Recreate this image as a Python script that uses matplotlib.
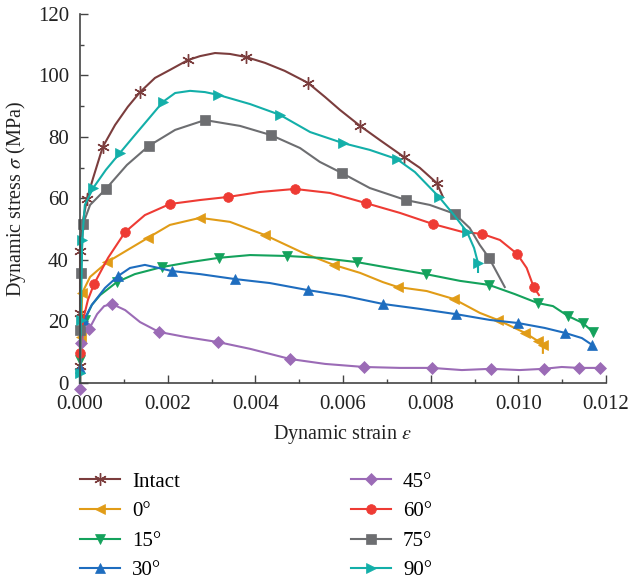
import matplotlib
matplotlib.use("Agg")
import matplotlib.pyplot as plt
from matplotlib.ticker import MultipleLocator, FormatStrFormatter

plt.rcParams['font.family'] = ['Liberation Serif', 'DejaVu Serif']
plt.rcParams['mathtext.fontset'] = 'stix'

# strain / stress
intact_x = [0, 0, 0, 0, 0.00007, 0.00016, 0.0003, 0.00052, 0.0008, 0.00109, 0.00137, 0.00171, 0.00205,
            0.00246, 0.00274, 0.00308, 0.00342, 0.00379, 0.00422, 0.00467, 0.0052, 0.00559, 0.00593,
            0.00639, 0.00684, 0.00739, 0.00775, 0.00814, 0.00828]
intact_y = [0, 5.5, 22.8, 42.9, 53.0, 59.9, 66.7, 76.8, 83.9, 89.8, 94.6, 99.2, 101.8,
            105.0, 106.3, 107.3, 107.0, 106.0, 104.1, 101.5, 97.6, 93.0, 88.8,
            83.6, 79.0, 73.5, 70.0, 65.0, 60.5]
intact_mk = [1, 2, 3, 5, 7, 10, 13, 17, 20, 23, 25, 27]

d0_x = [0, 0.00002, 0.00005, 0.00023, 0.00062, 0.00109, 0.00155, 0.00205, 0.00274, 0.00342, 0.00422,
        0.00509, 0.00579, 0.00639, 0.00691, 0.00725, 0.00791, 0.00853, 0.00912, 0.00953, 0.01015,
        0.01044, 0.01056, 0.01056]
d0_y = [0, 15.0, 29.3, 34.5, 39.3, 43.3, 47.2, 51.4, 53.7, 52.4, 48.1,
        42.3, 38.4, 35.8, 32.8, 31.2, 29.9, 27.3, 22.8, 20.5, 16.3,
        13.7, 12.4, 9.8]
d0_mk = [1, 2, 4, 6, 8, 10, 12, 15, 17, 19, 20, 21, 22]

d15_x = [0, 0, 0.00005, 0.00011, 0.00027, 0.00046, 0.00084, 0.00125, 0.00187, 0.00251, 0.00317,
         0.00388, 0.00472, 0.00547, 0.00632, 0.00707, 0.00789, 0.00867, 0.00933, 0.00992, 0.01044,
         0.01079, 0.01113, 0.01147, 0.0117]
d15_y = [0, 7.5, 15.6, 20.5, 25.4, 28.6, 32.8, 35.4, 37.7, 39.3, 40.7,
         41.6, 41.3, 40.7, 39.3, 37.4, 35.4, 33.2, 31.9, 28.9, 26.0,
         25.0, 21.8, 19.5, 16.6]
d15_mk = [1, 3, 6, 8, 10, 12, 14, 16, 18, 20, 22, 23, 24]

d30_x = [0, 0, 0.00005, 0.00009, 0.00027, 0.00057, 0.00087, 0.00114, 0.00148, 0.0021, 0.00274,
         0.00353, 0.00433, 0.0052, 0.00604, 0.00691, 0.00775, 0.00857, 0.00935, 0.00999, 0.0106,
         0.01106, 0.01145, 0.01168]
d30_y = [0, 4.9, 15.6, 20.5, 25.4, 30.9, 34.8, 37.4, 38.4, 36.4, 35.4,
         33.8, 32.5, 30.2, 28.3, 25.7, 24.1, 22.4, 20.5, 19.5, 17.9,
         16.3, 14.6, 12.4]
d30_mk = [1, 3, 6, 9, 11, 13, 15, 17, 19, 21, 23]

d45_x = [0, 0, 0.00002, 0.00009, 0.00021, 0.00039, 0.00055, 0.00073, 0.00103, 0.00137, 0.0018,
         0.00239, 0.00315, 0.00388, 0.00479, 0.00559, 0.00648, 0.0073, 0.00803, 0.00871, 0.00937,
         0.01003, 0.01058, 0.01099, 0.01138, 0.01186]
d45_y = [-1.8, 5.9, 13.0, 16.3, 17.6, 22.4, 25.0, 25.7, 23.7, 19.8, 16.6,
         15.0, 13.3, 11.1, 7.8, 6.2, 5.2, 4.9, 4.9, 4.2, 4.6,
         4.2, 4.6, 5.2, 4.9, 4.9]
d45_mk = [0, 2, 4, 7, 10, 12, 14, 16, 18, 20, 22, 24, 25]

d60_x = [0, 0, 0.00007, 0.00018, 0.00032, 0.00064, 0.00103, 0.00148, 0.00205, 0.00274, 0.00338,
         0.0041, 0.0049, 0.0057, 0.00652, 0.0073, 0.00805, 0.00873, 0.00917, 0.00958, 0.00997,
         0.01019, 0.01035, 0.01047]
d60_y = [0, 9.8, 20.5, 27.0, 32.2, 40.7, 49.1, 54.6, 58.2, 59.5, 60.5,
         62.1, 63.1, 61.8, 58.5, 55.3, 51.7, 49.1, 48.5, 46.5, 42.0,
         37.4, 31.2, 28.6]
d60_mk = [1, 4, 6, 8, 10, 12, 14, 16, 18, 20, 22]

d75_x = [0, 0, 0.00002, 0.00007, 0.00023, 0.00059, 0.00107, 0.00157, 0.00217, 0.00285, 0.00365,
         0.00436, 0.00502, 0.00547, 0.00597, 0.00661, 0.00743, 0.00798, 0.00855, 0.00889, 0.00912,
         0.00933, 0.00969]
d75_y = [0, 17.2, 35.8, 51.7, 57.9, 63.1, 70.9, 77.1, 82.3, 85.5, 83.6,
         80.6, 76.4, 71.9, 68.3, 63.4, 59.5, 57.9, 55.0, 50.4, 44.9,
         40.7, 31.2]
d75_mk = [1, 2, 3, 5, 7, 9, 11, 14, 16, 18, 21]

d90_x = [0, 0, 0.00002, 0.00005, 0.00011, 0.0003, 0.00059, 0.00091, 0.00125, 0.0016, 0.00189,
         0.00217, 0.00251, 0.00285, 0.00315, 0.00388, 0.00456, 0.00525, 0.006, 0.00661, 0.00723,
         0.00764, 0.00819, 0.00855, 0.00883, 0.00899, 0.00908, 0.00908]
d90_y = [0, 3.3, 20.5, 46.5, 57.9, 63.4, 69.3, 74.8, 80.6, 86.5, 91.4,
         94.3, 95.0, 94.6, 93.7, 90.7, 87.2, 81.6, 78.0, 75.8, 72.8,
         68.6, 60.5, 54.3, 49.1, 43.9, 39.0, 36.1]
d90_mk = [1, 2, 3, 5, 7, 10, 14, 16, 18, 20, 22, 24, 26]

series = [
    ("Intact", intact_x, intact_y, intact_mk, "#7B3D3D", (6, 2, 0), 9),
    ("0°", d0_x, d0_y, d0_mk, "#E19C17", "<", 7),
    ("15°", d15_x, d15_y, d15_mk, "#14A25C", "v", 7),
    ("30°", d30_x, d30_y, d30_mk, "#1E6DBF", "^", 7),
    ("45°", d45_x, d45_y, d45_mk, "#9B6BB6", "D", 6),
    ("60°", d60_x, d60_y, d60_mk, "#EE3B34", "o", 7),
    ("75°", d75_x, d75_y, d75_mk, "#6D6E71", "s", 7),
    ("90°", d90_x, d90_y, d90_mk, "#13AFA9", ">", 7),
]

fig = plt.figure(figsize=(6.31, 5.8), dpi=100)
ax = fig.add_axes([0.1268, 0.3397, 0.8336, 0.6362])

for name, x, y, mk, c, m, ms in series:
    ax.plot(x, y, color=c, lw=1.5, marker=m, markersize=ms, markevery=mk,
            markeredgewidth=1.0 if m == (6, 2, 0) else 0.5, markeredgecolor=c,
            label=name, clip_on=False)

ax.set_xlim(0, 0.012)
ax.set_ylim(0, 120)
ax.xaxis.set_major_locator(MultipleLocator(0.002))
ax.xaxis.set_minor_locator(MultipleLocator(0.001))
ax.yaxis.set_major_locator(MultipleLocator(20))
ax.yaxis.set_minor_locator(MultipleLocator(10))
ax.xaxis.set_major_formatter(FormatStrFormatter("%.3f"))

for s in ["top", "right"]:
    ax.spines[s].set_visible(False)
for s in ["left", "bottom"]:
    ax.spines[s].set_color("#444444")
    ax.spines[s].set_linewidth(1.2)

ax.tick_params(which="both", direction="in", colors="#444444", labelcolor="#222222", labelsize=15)
ax.tick_params(which="major", length=6, width=1.0)
ax.tick_params(which="minor", length=3, width=1.0)
ax.tick_params(axis="x", which="major", pad=9)
ax.tick_params(axis="y", which="major", pad=8)

ax.set_xlabel(r"Dynamic strain $\varepsilon$", fontsize=14.5, color="#222222", labelpad=6)
ax.set_ylabel(r"Dynamic stress $\sigma$ (MPa)", fontsize=14.5, color="#222222", labelpad=7)

fig.legend(loc="upper left", bbox_to_anchor=(0.127, 0.186), ncol=2, frameon=False,
           fontsize=15, handlelength=1.9, handletextpad=0.6, columnspacing=8.2,
           labelspacing=0.48, borderpad=0, borderaxespad=0)

fig.savefig("out.png", dpi=100)
